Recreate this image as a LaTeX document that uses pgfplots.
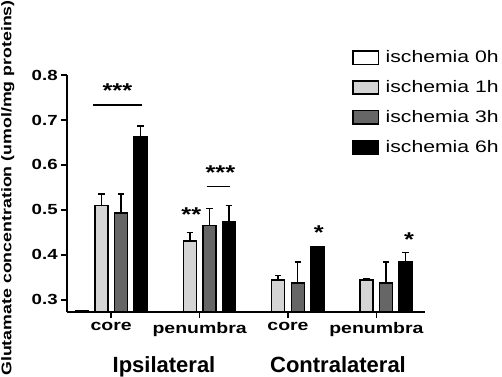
\documentclass[border=0pt]{standalone}
\usepackage{pgfplots}
\pgfplotsset{compat=1.18}
\usepackage{fontspec}
\setmainfont{Liberation Sans}
\newfontfamily\sfw{Liberation Sans}[FakeStretch=1.27]
\definecolor{lg}{HTML}{D4D4D4}
\definecolor{dg}{HTML}{666666}
\begin{document}
\begin{tikzpicture}[x=1pt,y=1pt]
\useasboundingbox (0,0) rectangle (376.5,282);
\begin{axis}[
  at={(50.25pt,48pt)}, anchor=south west,
  scale only axis, width=268.5pt, height=177.75pt,
  xmin=-0.5, xmax=3.55, ymin=0.273, ymax=0.8,
  axis x line=bottom, axis y line=left,
  axis line style={-, line width=1.5pt},
  ybar=4.9pt, bar width=9.75pt,
  xtick={0,1,2,3}, xticklabels={core,penumbra,core,penumbra},
  ytick={0.3,0.4,0.5,0.6,0.7,0.8},
  /pgf/number format/.cd, fixed, fixed zerofill, precision=1, assume math mode=true,
  /pgfplots/.cd,
  tick align=outside, major tick length=4.5pt,
  tick style={black, line width=1.2pt},
  yticklabel style={font=\sfw\bfseries\fontsize{11}{12}\selectfont, xshift=1pt},
  xticklabel style={font=\sfw\bfseries\fontsize{11.5}{12}\selectfont},
  legend style={at={(rel axis cs:0.796,1.115)}, anchor=north west, draw=none, fill=none,
    font=\sfw\fontsize{12.5}{14}\selectfont, row sep=7.8pt, inner sep=0pt,
    nodes={inner xsep=5pt}},
  legend cell align=left,
  legend image code/.code={\draw[#1, line width=1.1pt] (0pt,-5pt) rectangle (19pt,5pt);},
  every axis plot/.append style={draw=black, line width=1.1pt,
    error bars/y dir=plus, error bars/y explicit,
    error bars/error bar style={line width=1.1pt, black},
    error bars/error mark options={rotate=90, mark size=2.4pt, line width=1.1pt, black}},
]
\addplot[fill=white] coordinates {(0,0.276) +- (0,0) (1,0.274) +- (0,0) (2,0.272) +- (0,0) (3,0.272) +- (0,0)};
\addplot[fill=lg] coordinates {(0,0.510) +- (0,0.025) (1,0.431) +- (0,0.019) (2,0.344) +- (0,0.010) (3,0.344) +- (0,0.002)};
\addplot[fill=dg] coordinates {(0,0.493) +- (0,0.042) (1,0.465) +- (0,0.038) (2,0.338) +- (0,0.046) (3,0.338) +- (0,0.046)};
\addplot[fill=black] coordinates {(0,0.663) +- (0,0.024) (1,0.474) +- (0,0.036) (2,0.418) +- (0,0.001) (3,0.385) +- (0,0.020)};
\addlegendentry{ischemia 0h}
\addlegendentry{ischemia 1h}
\addlegendentry{ischemia 3h}
\addlegendentry{ischemia 6h}
\draw[line width=1.2pt] (axis cs:-0.203,0.733) -- (axis cs:0.35,0.733);
\draw[line width=1.2pt] (axis cs:1.079,0.552) -- (axis cs:1.339,0.552);
\begin{scope}[every node/.style={font=\sfw\bfseries\fontsize{15}{16}\selectfont, inner sep=0pt}]
\node at (axis cs:0.07,0.766) {***};
\node at (axis cs:0.906,0.490) {**};
\node at (axis cs:1.235,0.583) {***};
\node at (axis cs:2.35,0.450) {*};
\node at (axis cs:3.37,0.434) {*};
\end{scope}
\end{axis}
\node[rotate=90, font=\sfw\bfseries\fontsize{10.5}{12}\selectfont] at (5.8,141) {Glutamate concentration (umol/mg proteins)};
\node[font=\bfseries\fontsize{16.5}{18}\selectfont, anchor=base] at (123,3) {Ipsilateral};
\node[font=\bfseries\fontsize{16.5}{18}\selectfont, anchor=base] at (253.5,3) {Contralateral};
\end{tikzpicture}
\end{document}
